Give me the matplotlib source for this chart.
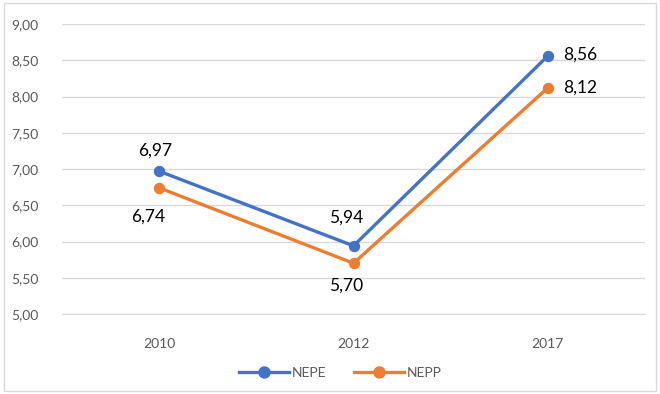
import matplotlib
matplotlib.use("Agg")
import matplotlib.pyplot as plt
from matplotlib.patches import Rectangle

years = ["2010", "2012", "2017"]
nepe = [6.97, 5.94, 8.56]
nepp = [6.74, 5.70, 8.12]
yticks = [5.0, 5.5, 6.0, 6.5, 7.0, 7.5, 8.0, 8.5, 9.0]

plt.rcParams['font.family'] = ['Lato', 'DejaVu Sans']

fig = plt.figure(figsize=(6.6, 3.94), dpi=100)
ax = fig.add_axes([62/660, 1-314/394, (645-62)/660, (314-24)/394])

blue = '#4472C4'
orange = '#ED7D31'
x = list(range(len(years)))
ax.plot(x, nepe, color=blue, lw=2.4, marker='o', ms=7.2, label='NEPE', zorder=3)
ax.plot(x, nepp, color=orange, lw=2.4, marker='o', ms=7.2, label='NEPP', zorder=3)

def fmt(v):
    return f"{v:.2f}".replace('.', ',')

# data label offsets (points)
offs_e = [(-3, 11.5, 'center', 'baseline'), (-5, 16.5, 'center', 'baseline'), (11, 1, 'left', 'center')]
offs_p = [(-8, -24, 'center', 'baseline'), (-5, -20, 'center', 'baseline'), (11, 0, 'left', 'center')]
for i, v in enumerate(nepe):
    dx, dy, ha, va = offs_e[i]
    ax.annotate(fmt(v), (i, v), xytext=(dx, dy), textcoords='offset points',
                ha=ha, va=va, fontsize=12.5, color='black')
for i, v in enumerate(nepp):
    dx, dy, ha, va = offs_p[i]
    ax.annotate(fmt(v), (i, v), xytext=(dx, dy), textcoords='offset points',
                ha=ha, va=va, fontsize=12.5, color='black')

ax.set_xlim(-0.5, 2.5)
ax.set_ylim(5.0, 9.0)
ax.set_yticks(yticks)
ax.set_yticklabels([fmt(t) for t in yticks])
ax.set_xticks(x)
ax.set_xticklabels(years)
ax.grid(axis='y', color='#D9D9D9', lw=1)
ax.set_axisbelow(True)
for s in ['top', 'right', 'left']:
    ax.spines[s].set_visible(False)
ax.spines['bottom'].set_color('#D9D9D9')
ax.tick_params(axis='both', length=0, colors='#595959', labelsize=10)
ax.tick_params(axis='y', pad=17)
ax.tick_params(axis='x', pad=17)

leg = fig.legend(loc='center', bbox_to_anchor=(340/660, 1-373/394), ncol=2, frameon=False,
                 fontsize=10, handlelength=3.6, columnspacing=2.0, handletextpad=0.2,
                 markerscale=1.1)
for t in leg.get_texts():
    t.set_color('#595959')

fig.patches.append(Rectangle((4/660, 3/394), 652/660, 388/394, transform=fig.transFigure,
                             fill=False, edgecolor='#D9D9D9', lw=1))

fig.savefig('out.png', dpi=100)
